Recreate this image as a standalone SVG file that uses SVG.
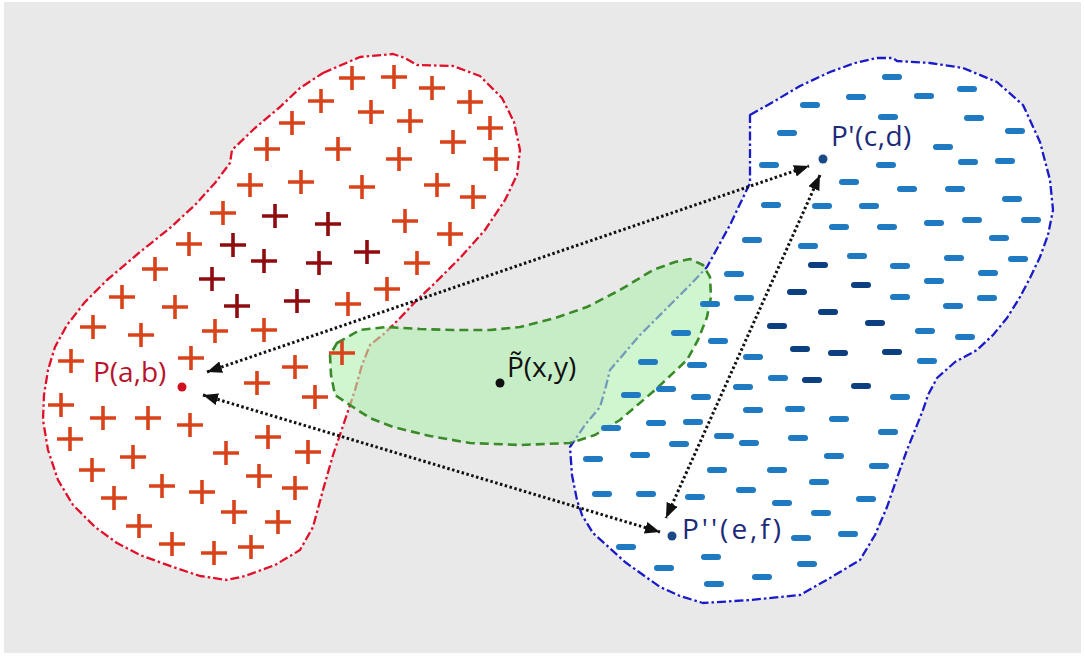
<svg xmlns="http://www.w3.org/2000/svg" xmlns:xlink="http://www.w3.org/1999/xlink" width="1085" height="657" viewBox="0 0 1085 657">
<style>
.blob-r{fill:#fff;stroke:#e0102a;stroke-width:2.3;stroke-dasharray:9 3 2.5 3;stroke-linejoin:round}
.blob-b{fill:#fff;stroke:#1a1ac8;stroke-width:2.3;stroke-dasharray:9 3 2.5 3;stroke-linejoin:round}
.blob-g{fill:#b0f0b0;fill-opacity:0.6;stroke:#3a8a2a;stroke-width:2.6;stroke-dasharray:9 5;stroke-linejoin:round}
.p{stroke:#d8431a;fill:none}
.pd{stroke:#8e0c10;fill:none}
.d{fill:#1f7ac2}
.dd{fill:#0c3f80}
.arr{stroke:#111;stroke-width:3;stroke-dasharray:2.5 2.5;fill:none;marker-start:url(#ah);marker-end:url(#ah)}
.lbl{font-family:"Open Sans","Liberation Sans",sans-serif;font-size:28px}
</style>
<defs>
<path id="pl" d="M-13,0H13M0,-12V12" stroke-width="3.6"/>
<rect id="ds" x="-10" y="-3" width="20" height="6" rx="3"/>
<marker id="ah" viewBox="0 0 10 10" refX="10" refY="5" markerWidth="15" markerHeight="12" markerUnits="userSpaceOnUse" orient="auto-start-reverse" preserveAspectRatio="none">
<path d="M0,0L10,5L0,10z" fill="#111"/>
</marker>
</defs>
<rect x="0" y="0" width="1085" height="657" fill="#ffffff"/>
<rect x="4" y="2" width="1077" height="651" fill="#e9e9e9"/>

<g id="region-red">
<path class="blob-r" d="M323,73L360,57L393,54L405,58L417,65L453,66L480,76L502,98L514,122L520,150L517,175L505,200L485,230L460,258L435,283L417,300L400,318L385,333L370,345L362,365L355,390L345,420L333,455L323,490L313,527L300,550L275,565L245,576L227,580L200,576L173,567L140,555L117,543L95,527L73,505L58,480L48,450L43,420L44,395L48,370L55,347L67,325L85,302L107,280L140,252L170,228L195,205L215,183L230,163L232,150L255,128L280,107L300,88Z"/>
</g>

<g id="region-blue">
<path class="blob-b" d="M750,115L773,102L800,86L830,72L855,63L877,58L893,58L897,61L930,63L963,68L997,82L1023,105L1040,142L1050,180L1053,210L1048,235L1040,257L1030,278L1020,297L1007,318L993,335L977,350L955,362L937,378L928,395L923,410L915,430L907,450L897,478L887,507L875,535L860,560L830,578L800,595L750,600L703,603L680,596L660,587L625,562L593,533L582,515L577,500L572,475L570,447L585,425L600,407L605,390L610,370L640,335L670,305L690,285L707,267L730,225L750,183L750,150Z"/>
</g>

<g id="region-green">
<path class="blob-g" d="M337,343L360,330L387,327L420,329L453,330L490,330L520,327L555,318L587,307L620,290L653,270L675,262L690,259L703,265L710,277L711,297L707,317L698,340L687,360L655,390L620,420L595,435L570,443L520,445L470,443L430,436L393,427L370,418L353,407L335,395L331,375L330,355Z"/>
</g>

<g id="marks-red">
<g class="p">
<use xlink:href="#pl" x="352" y="78"/><use xlink:href="#pl" x="394" y="77"/><use xlink:href="#pl" x="432" y="88"/><use xlink:href="#pl" x="470" y="102"/>
<use xlink:href="#pl" x="321" y="101"/><use xlink:href="#pl" x="371" y="112"/><use xlink:href="#pl" x="410" y="121"/><use xlink:href="#pl" x="490" y="128"/>
<use xlink:href="#pl" x="292" y="123"/><use xlink:href="#pl" x="267" y="149"/><use xlink:href="#pl" x="338" y="149"/><use xlink:href="#pl" x="399" y="159"/>
<use xlink:href="#pl" x="453" y="142"/><use xlink:href="#pl" x="496" y="159"/><use xlink:href="#pl" x="250" y="185"/><use xlink:href="#pl" x="301" y="182"/>
<use xlink:href="#pl" x="362" y="187"/><use xlink:href="#pl" x="437" y="185"/><use xlink:href="#pl" x="473" y="197"/><use xlink:href="#pl" x="223" y="213"/>
<use xlink:href="#pl" x="405" y="221"/><use xlink:href="#pl" x="450" y="234"/><use xlink:href="#pl" x="189" y="244"/><use xlink:href="#pl" x="417" y="263"/>
<use xlink:href="#pl" x="155" y="269"/><use xlink:href="#pl" x="122" y="297"/><use xlink:href="#pl" x="175" y="307"/><use xlink:href="#pl" x="348" y="304"/>
<use xlink:href="#pl" x="387" y="289"/><use xlink:href="#pl" x="93" y="327"/><use xlink:href="#pl" x="141" y="335"/><use xlink:href="#pl" x="215" y="331"/>
<use xlink:href="#pl" x="264" y="330"/><use xlink:href="#pl" x="71" y="361"/><use xlink:href="#pl" x="191" y="358"/><use xlink:href="#pl" x="295" y="367"/>
<use xlink:href="#pl" x="342" y="353"/><use xlink:href="#pl" x="257" y="383"/><use xlink:href="#pl" x="315" y="397"/><use xlink:href="#pl" x="61" y="405"/>
<use xlink:href="#pl" x="103" y="418"/><use xlink:href="#pl" x="148" y="418"/><use xlink:href="#pl" x="190" y="425"/><use xlink:href="#pl" x="70" y="439"/>
<use xlink:href="#pl" x="268" y="437"/><use xlink:href="#pl" x="308" y="452"/><use xlink:href="#pl" x="226" y="453"/><use xlink:href="#pl" x="133" y="457"/>
<use xlink:href="#pl" x="92" y="470"/><use xlink:href="#pl" x="259" y="476"/><use xlink:href="#pl" x="162" y="486"/><use xlink:href="#pl" x="202" y="492"/>
<use xlink:href="#pl" x="295" y="488"/><use xlink:href="#pl" x="114" y="498"/><use xlink:href="#pl" x="234" y="512"/><use xlink:href="#pl" x="278" y="522"/>
<use xlink:href="#pl" x="139" y="526"/><use xlink:href="#pl" x="172" y="544"/><use xlink:href="#pl" x="251" y="547"/><use xlink:href="#pl" x="214" y="553"/>
</g>
<g class="pd">
<use xlink:href="#pl" x="275" y="216"/><use xlink:href="#pl" x="328" y="224"/><use xlink:href="#pl" x="233" y="245"/><use xlink:href="#pl" x="264" y="261"/>
<use xlink:href="#pl" x="319" y="263"/><use xlink:href="#pl" x="367" y="252"/><use xlink:href="#pl" x="212" y="279"/><use xlink:href="#pl" x="237" y="306"/>
<use xlink:href="#pl" x="297" y="301"/>
</g>
</g>

<g id="marks-blue">
<g class="d">
<use xlink:href="#ds" x="892" y="77"/><use xlink:href="#ds" x="856" y="97"/><use xlink:href="#ds" x="924" y="96"/><use xlink:href="#ds" x="967" y="89"/>
<use xlink:href="#ds" x="810" y="105"/><use xlink:href="#ds" x="888" y="117"/><use xlink:href="#ds" x="974" y="118"/><use xlink:href="#ds" x="787" y="133"/>
<use xlink:href="#ds" x="1015" y="131"/><use xlink:href="#ds" x="943" y="147"/><use xlink:href="#ds" x="769" y="165"/><use xlink:href="#ds" x="886" y="165"/>
<use xlink:href="#ds" x="968" y="162"/><use xlink:href="#ds" x="1005" y="161"/><use xlink:href="#ds" x="849" y="182"/><use xlink:href="#ds" x="907" y="189"/>
<use xlink:href="#ds" x="955" y="189"/><use xlink:href="#ds" x="1012" y="199"/><use xlink:href="#ds" x="771" y="205"/><use xlink:href="#ds" x="822" y="206"/>
<use xlink:href="#ds" x="869" y="206"/><use xlink:href="#ds" x="839" y="227"/><use xlink:href="#ds" x="887" y="227"/><use xlink:href="#ds" x="934" y="223"/>
<use xlink:href="#ds" x="972" y="220"/><use xlink:href="#ds" x="1031" y="220"/><use xlink:href="#ds" x="999" y="238"/><use xlink:href="#ds" x="752" y="240"/>
<use xlink:href="#ds" x="808" y="246"/><use xlink:href="#ds" x="857" y="256"/><use xlink:href="#ds" x="954" y="258"/><use xlink:href="#ds" x="1018" y="259"/>
<use xlink:href="#ds" x="900" y="266"/><use xlink:href="#ds" x="988" y="273"/><use xlink:href="#ds" x="734" y="274"/><use xlink:href="#ds" x="934" y="281"/>
<use xlink:href="#ds" x="744" y="298"/><use xlink:href="#ds" x="900" y="297"/><use xlink:href="#ds" x="987" y="298"/><use xlink:href="#ds" x="710" y="304"/>
<use xlink:href="#ds" x="953" y="306"/><use xlink:href="#ds" x="681" y="333"/><use xlink:href="#ds" x="718" y="341"/><use xlink:href="#ds" x="925" y="331"/>
<use xlink:href="#ds" x="965" y="337"/><use xlink:href="#ds" x="927" y="361"/><use xlink:href="#ds" x="648" y="362"/><use xlink:href="#ds" x="697" y="365"/>
<use xlink:href="#ds" x="753" y="357"/><use xlink:href="#ds" x="778" y="378"/><use xlink:href="#ds" x="743" y="387"/><use xlink:href="#ds" x="666" y="389"/>
<use xlink:href="#ds" x="900" y="397"/><use xlink:href="#ds" x="631" y="395"/><use xlink:href="#ds" x="701" y="397"/><use xlink:href="#ds" x="753" y="410"/>
<use xlink:href="#ds" x="795" y="409"/><use xlink:href="#ds" x="839" y="419"/><use xlink:href="#ds" x="611" y="428"/><use xlink:href="#ds" x="656" y="423"/>
<use xlink:href="#ds" x="693" y="422"/><use xlink:href="#ds" x="888" y="432"/><use xlink:href="#ds" x="724" y="436"/><use xlink:href="#ds" x="749" y="443"/>
<use xlink:href="#ds" x="798" y="438"/><use xlink:href="#ds" x="679" y="444"/><use xlink:href="#ds" x="640" y="455"/><use xlink:href="#ds" x="593" y="459"/>
<use xlink:href="#ds" x="834" y="456"/><use xlink:href="#ds" x="879" y="466"/><use xlink:href="#ds" x="717" y="470"/><use xlink:href="#ds" x="777" y="470"/>
<use xlink:href="#ds" x="819" y="482"/><use xlink:href="#ds" x="746" y="490"/><use xlink:href="#ds" x="866" y="499"/><use xlink:href="#ds" x="602" y="494"/>
<use xlink:href="#ds" x="646" y="494"/><use xlink:href="#ds" x="695" y="497"/><use xlink:href="#ds" x="782" y="503"/><use xlink:href="#ds" x="821" y="513"/>
<use xlink:href="#ds" x="848" y="534"/><use xlink:href="#ds" x="801" y="538"/><use xlink:href="#ds" x="626" y="547"/><use xlink:href="#ds" x="711" y="557"/>
<use xlink:href="#ds" x="807" y="564"/><use xlink:href="#ds" x="664" y="568"/><use xlink:href="#ds" x="762" y="577"/><use xlink:href="#ds" x="714" y="584"/>
</g>
<g class="dd">
<use xlink:href="#ds" x="818" y="265"/><use xlink:href="#ds" x="861" y="285"/><use xlink:href="#ds" x="797" y="292"/><use xlink:href="#ds" x="828" y="312"/>
<use xlink:href="#ds" x="777" y="326"/><use xlink:href="#ds" x="875" y="323"/><use xlink:href="#ds" x="800" y="349"/><use xlink:href="#ds" x="838" y="353"/>
<use xlink:href="#ds" x="892" y="352"/><use xlink:href="#ds" x="812" y="380"/><use xlink:href="#ds" x="861" y="386"/>
</g>
</g>

<g id="connectors">
<line class="arr" x1="207" y1="372" x2="809" y2="166"/>
<line class="arr" x1="203" y1="395" x2="660" y2="532"/>
<line class="arr" x1="820" y1="175" x2="666" y2="518"/>
</g>

<g id="point-p">
<circle cx="182" cy="387" r="4.5" fill="#d0101e"/>
<text class="lbl" x="93" y="382" fill="#b8142c">P(a,b)</text>
</g>
<g id="point-p1">
<circle cx="823" cy="159" r="4.5" fill="#1a4a86"/>
<text class="lbl" x="831" y="146" fill="#1c2a78" letter-spacing="0.5">P'(c,d)</text>
</g>
<g id="point-p2">
<circle cx="672" cy="536" r="4.5" fill="#1a4a86"/>
<text class="lbl" x="682" y="539" fill="#1c2a78" letter-spacing="3">P''(e,f)</text>
</g>
<g id="point-pt">
<circle cx="500" cy="383" r="4.5" fill="#111"/>
<text class="lbl" x="507" y="377" fill="#111">P̃(x,y)</text>
</g>
</svg>
